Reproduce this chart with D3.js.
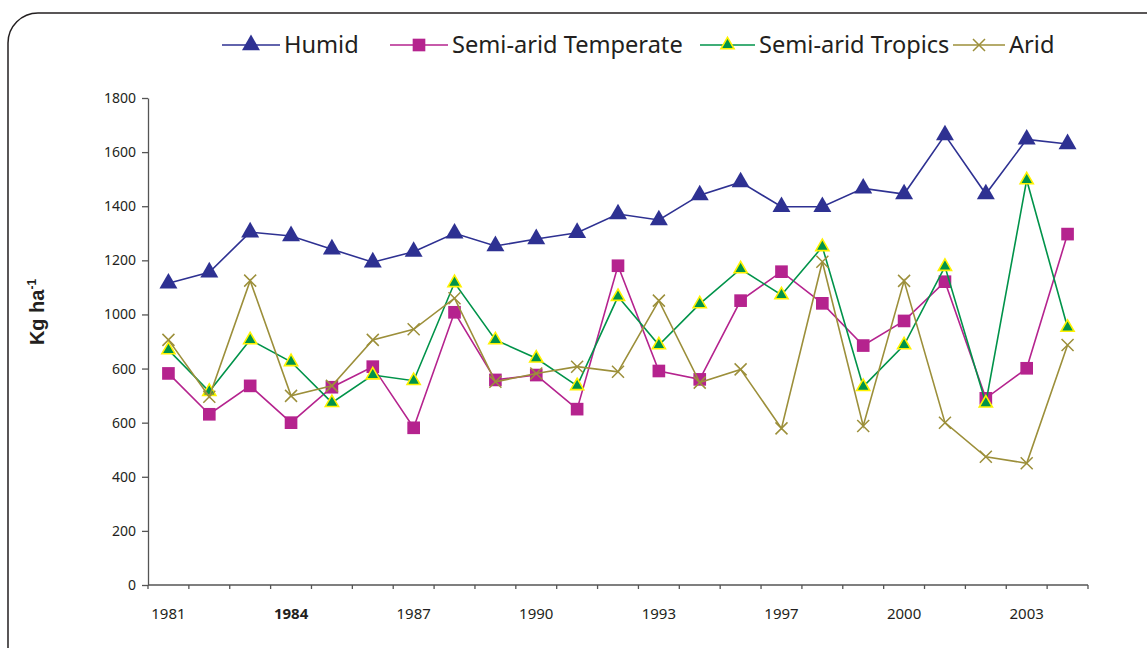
<!DOCTYPE html>
<html>
<head>
<meta charset="utf-8">
<script src="https://cdn.jsdelivr.net/npm/d3@7"></script>
<style>
  body { margin: 0; background: #fff; }
  svg { display: block; }
</style>
</head>
<body>
<script>
var width = 1147, height = 648;
var margin = {top: 98, right: 59, bottom: 63, left: 148};

// categories (1996 is absent from the series)
var years = ["1981","1982","1983","1984","1985","1986","1987","1988","1989","1990",
             "1991","1992","1993","1994","1995","1997","1998","1999","2000","2001",
             "2002","2003","2004"];
var shownYears = ["1981","1984","1987","1990","1993","1997","2000","2003"];
var yTickValues = [0, 200, 400, 600, 800, 1000, 1200, 1400, 1600, 1800];
var yTickLabels = ["0","200","400","600","600","1000","1200","1400","1600","1800"];

var humid = [1115,1156,1304,1290,1241,1193,1232,1300,1253,1279,1302,1371,1349,1441,1489,1398,
             1398,1466,1445,1663,1445,1647,1630];
var semiAridTemperate = [782,631,736,600,731,807,581,1008,758,776,650,1180,791,760,1051,1158,
                         1041,885,976,1121,690,801,1297];
var semiAridTropics = [869,715,906,825,674,776,755,1117,906,838,736,1066,887,1039,1168,1072,
                       1250,733,887,1177,672,1497,952];
var arid = [906,696,1125,699,736,906,945,1060,751,782,807,788,1051,748,797,579,
            1195,588,1124,600,474,450,887];

var series = [
  {name: "Humid", values: humid, color: "#2E3192", type: "tri", fill: "#2E3192", stroke: "none", size: 140},
  {name: "Semi-arid Temperate", values: semiAridTemperate, color: "#B5238E", type: "sq", fill: "#B5238E", stroke: "none", size: 160},
  {name: "Semi-arid Tropics", values: semiAridTropics, color: "#00934A", type: "tri", fill: "#00934A", stroke: "#FFF200", size: 75},
  {name: "Arid", values: arid, color: "#9C8F3A", type: "x", fill: "none", stroke: "#9C8F3A", size: 6}
];

var svg = d3.select("body").append("svg")
    .attr("width", width)
    .attr("height", height)
    .style("font-family", "'Noto Sans', sans-serif");

// rounded frame
svg.append("rect")
    .attr("x", 8).attr("y", 13)
    .attr("width", 1220).attr("height", 700)
    .attr("rx", 30).attr("ry", 30)
    .attr("fill", "none")
    .attr("stroke", "#231F20")
    .attr("stroke-width", 1.5);

var x = d3.scaleBand()
    .domain(years)
    .range([margin.left, width - margin.right]);

var y = d3.scaleLinear()
    .domain([0, 1800])
    .range([height - margin.bottom, margin.top]);

var y0 = y(0);

// y axis
var yAxis = svg.append("g")
    .attr("transform", "translate(" + margin.left + ",0)")
    .call(d3.axisLeft(y)
        .tickValues(yTickValues)
        .tickSize(6)
        .tickSizeOuter(0)
        .tickFormat(function(d, i) { return yTickLabels[i]; }));
yAxis.select(".domain").attr("stroke", "#555").attr("stroke-width", 1.3);
yAxis.selectAll(".tick line").attr("stroke", "#555").attr("stroke-width", 1.3);
yAxis.selectAll("text")
    .attr("x", -12)
    .attr("fill", "#231F20")
    .style("font-size", "14px")
    .style("font-family", "'Noto Sans', sans-serif");

// x axis line with tick marks on category boundaries
var xg = svg.append("g").attr("transform", "translate(0," + y0 + ")");
xg.append("line")
    .attr("x1", x.range()[0]).attr("x2", x.range()[1])
    .attr("stroke", "#555").attr("stroke-width", 1.3);
xg.selectAll(".bnd")
    .data(years.concat(["end"]))
    .enter().append("line")
    .attr("class", "bnd")
    .attr("x1", function(d, i) { return x.range()[0] + i * x.step(); })
    .attr("x2", function(d, i) { return x.range()[0] + i * x.step(); })
    .attr("y1", 0).attr("y2", 4)
    .attr("stroke", "#555").attr("stroke-width", 1.3);

var xAxis = svg.append("g")
    .attr("transform", "translate(0," + y0 + ")")
    .call(d3.axisBottom(x).tickValues(shownYears).tickSize(0).tickPadding(0));
xAxis.select(".domain").remove();
xAxis.selectAll("text")
    .attr("dy", "2.25em")
    .attr("fill", "#231F20")
    .style("font-size", "15px")
    .style("font-family", "'Noto Sans', sans-serif")
    .style("font-weight", function(d) { return d === "1984" ? "bold" : "normal"; });

// y title
var yTitle = svg.append("text")
    .attr("transform", "translate(44,312) rotate(-90)")
    .attr("text-anchor", "middle")
    .style("font-family", "Arial, 'Liberation Sans', sans-serif")
    .style("font-weight", "bold")
    .style("font-size", "20px")
    .attr("fill", "#231F20");
yTitle.append("tspan").text("Kg ha");
yTitle.append("tspan").attr("dy", -8).style("font-size", "12px").text("-1");

function markerPath(s) {
  if (s.type === "tri") return d3.symbol().type(d3.symbolTriangle).size(s.size)();
  if (s.type === "sq") return d3.symbol().type(d3.symbolSquare).size(s.size)();
  var r = s.size;
  return "M" + (-r) + "," + (-r) + "L" + r + "," + r + "M" + (-r) + "," + r + "L" + r + "," + (-r);
}

function markerStyle(sel, s) {
  sel.attr("fill", s.type === "x" ? "none" : s.fill)
     .attr("stroke", s.type === "x" ? s.color : s.stroke)
     .attr("stroke-width", s.type === "x" ? 1.5 : 1.6);
}

var cx = function(d, i) { return x(years[i]) + x.bandwidth() / 2; };

var line = d3.line()
    .x(cx)
    .y(function(d) { return y(d); });

series.forEach(function(s) {
  var g = svg.append("g");
  g.append("path")
      .datum(s.values)
      .attr("d", line)
      .attr("fill", "none")
      .attr("stroke", s.color)
      .attr("stroke-width", 1.6);

  g.selectAll(".m")
      .data(s.values)
      .enter().append("path")
      .attr("d", markerPath(s))
      .attr("transform", function(d, i) {
        return "translate(" + cx(d, i) + "," + y(d) + ")";
      })
      .call(markerStyle, s);
});

// legend
var legendItems = [
  {s: series[0], x0: 222, tx: 284},
  {s: series[1], x0: 390, tx: 452},
  {s: series[2], x0: 700, tx: 759},
  {s: series[3], x0: 953, tx: 1009}
];
var leg = svg.append("g").attr("transform", "translate(0,45)");
legendItems.forEach(function(it) {
  var s = it.s;
  var w = it.tx - it.x0 - 4;
  leg.append("line")
      .attr("x1", it.x0).attr("x2", it.x0 + w)
      .attr("stroke", s.color).attr("stroke-width", 1.6);
  leg.append("path")
      .attr("d", markerPath(s))
      .attr("transform", "translate(" + (it.x0 + w / 2) + ",0)")
      .call(markerStyle, s);
  leg.append("text")
      .attr("x", it.tx)
      .attr("y", 8)
      .style("font-size", "23.6px")
      .attr("fill", "#231F20")
      .text(s.name);
});
</script>
</body>
</html>
